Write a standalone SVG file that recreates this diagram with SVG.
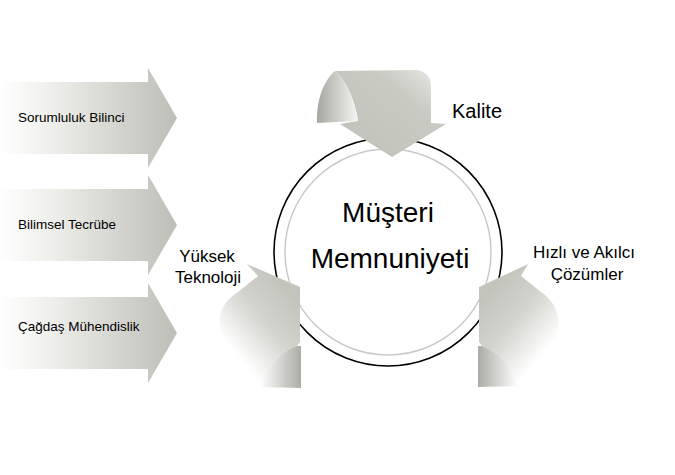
<svg xmlns="http://www.w3.org/2000/svg" width="675" height="475" viewBox="0 0 675 475">
  <defs>
    <linearGradient id="gBlock" x1="0" y1="0" x2="1" y2="0">
      <stop offset="0" stop-color="#ffffff"/>
      <stop offset="0.3" stop-color="#eeeeea"/>
      <stop offset="1" stop-color="#bdbeb6"/>
    </linearGradient>
    <linearGradient id="gTopBody" gradientUnits="userSpaceOnUse" x1="370" y1="140" x2="430" y2="68">
      <stop offset="0" stop-color="#c3c4bc"/>
      <stop offset="0.6" stop-color="#c9cac2"/>
      <stop offset="1" stop-color="#e6e6e1"/>
    </linearGradient>
    <linearGradient id="gTopLobe" gradientUnits="userSpaceOnUse" x1="317" y1="0" x2="358" y2="0">
      <stop offset="0" stop-color="#a6a79f"/>
      <stop offset="1" stop-color="#f6f6f3"/>
    </linearGradient>
    <linearGradient id="gLeftBody" gradientUnits="userSpaceOnUse" x1="290" y1="292" x2="228" y2="345">
      <stop offset="0" stop-color="#c3c4bc"/>
      <stop offset="0.45" stop-color="#d2d3cc"/>
      <stop offset="1" stop-color="#ffffff"/>
    </linearGradient>
    <linearGradient id="gLeftLobe" gradientUnits="userSpaceOnUse" x1="260" y1="0" x2="301" y2="0">
      <stop offset="0" stop-color="#ffffff"/>
      <stop offset="1" stop-color="#abaca4"/>
    </linearGradient>
    <linearGradient id="gRightBody" gradientUnits="userSpaceOnUse" x1="489" y1="292" x2="551" y2="345">
      <stop offset="0" stop-color="#c3c4bc"/>
      <stop offset="0.45" stop-color="#d2d3cc"/>
      <stop offset="1" stop-color="#ffffff"/>
    </linearGradient>
    <linearGradient id="gRightLobe" gradientUnits="userSpaceOnUse" x1="518" y1="0" x2="478" y2="0">
      <stop offset="0" stop-color="#ffffff"/>
      <stop offset="1" stop-color="#abaca4"/>
    </linearGradient>
    <style>
      text { font-family: "Liberation Sans", Arial, sans-serif; fill: #000; }
      .blk { fill: url(#gBlock); }
      .lbl { font-size: 13.5px; }
      .side { font-size: 17px; text-anchor: middle; }
      .core { font-size: 28px; text-anchor: middle; }
    </style>
  </defs>

  <rect width="675" height="475" fill="#ffffff"/>

  <g id="circle">
    <circle cx="388" cy="252" r="114" fill="#ffffff" stroke="#000000" stroke-width="1.6"/>
    <circle cx="388" cy="252" r="103" fill="none" stroke="#c8c8c8" stroke-width="1.4"/>
    <text class="core" x="388" y="222">Müşteri</text>
    <text class="core" x="390" y="268">Memnuniyeti</text>
  </g>

  <g id="arrow-sorumluluk">
    <path class="blk" d="M0,82 L148,82 L148,68 L177,118 L148,168 L148,154 L0,154 Z"/>
    <text class="lbl" x="18" y="122">Sorumluluk Bilinci</text>
  </g>
  <g id="arrow-bilimsel">
    <path class="blk" d="M0,189 L148,189 L148,175 L177,225 L148,275 L148,261 L0,261 Z"/>
    <text class="lbl" x="18" y="229">Bilimsel Tecrübe</text>
  </g>
  <g id="arrow-cagdas">
    <path class="blk" d="M0,297 L148,297 L148,283 L177,333 L148,383 L148,369 L0,369 Z"/>
    <text class="lbl" x="18" y="331">Çağdaş Mühendislik</text>
  </g>

  <g id="connectors">
    <g id="curl-kalite">
      <path fill="url(#gTopBody)" d="M335,71 C346,80 355,100 358,121 L340,124 L392,157 L446,124 L431,123 L431,86 C431,76 424,70 414,70 Z"/>
      <path fill="url(#gTopLobe)" d="M317,123 C316,100 324,80 335,71 C346,80 355,100 358,121 Z"/>
    </g>
    <g id="curl-yuksek">
      <path fill="url(#gLeftBody)" d="M247,264 L300,287 L300,342 L297,346 C279,352 265,368 258,387 C238,375 222,352 220,327 C218,312 225,300 238,292 L258,276 Z"/>
      <path fill="url(#gLeftLobe)" d="M258,387 C265,368 279,352 297,346 L301,346 L301,388 Z"/>
    </g>
    <g id="curl-hizli">
      <path fill="url(#gRightBody)" d="M528,264 L479,287 L479,342 L482,346 C500,352 513,368 519,386 C540,374 556,352 558,327 C560,312 553,300 541,292 L521,276 Z"/>
      <path fill="url(#gRightLobe)" d="M519,386 C513,368 500,352 482,346 L478,346 L478,387 Z"/>
    </g>
  </g>

  <g id="label-kalite">
    <text x="452" y="118" font-size="20">Kalite</text>
  </g>
  <g id="label-yuksek">
    <text class="side" x="207" y="262">Yüksek</text>
    <text class="side" x="208" y="283">Teknoloji</text>
  </g>
  <g id="label-hizli">
    <text class="side" x="584" y="258">Hızlı ve Akılcı</text>
    <text class="side" x="587" y="280">Çözümler</text>
  </g>
</svg>
